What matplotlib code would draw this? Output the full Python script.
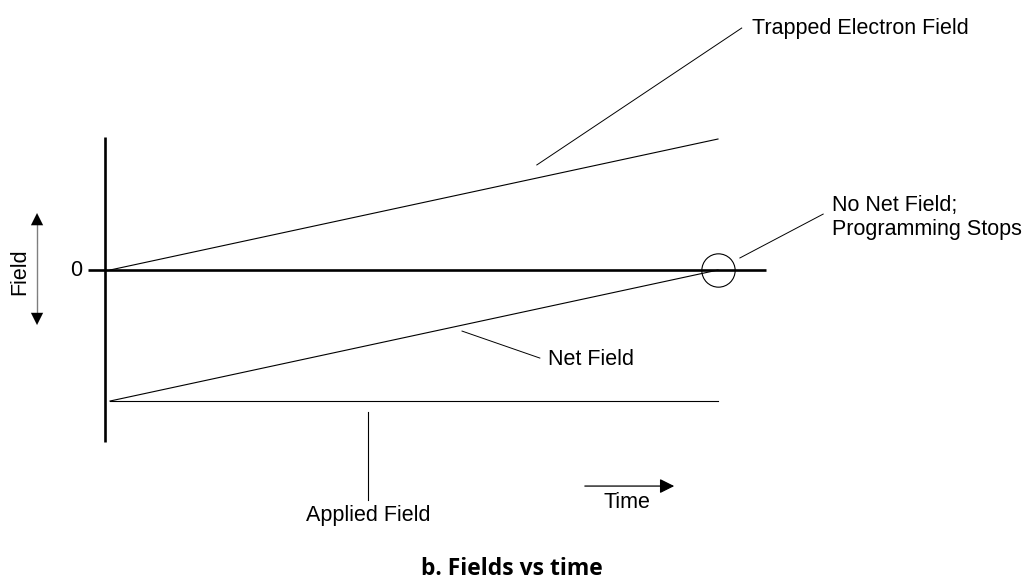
import matplotlib.pyplot as plt

# Dane (czas znormalizowany 0..1, pole znormalizowane)
time = [0.0, 1.0]
trapped_field = [0.0, 1.0]
applied_field = [-1.0, -1.0]
net_field = [-1.0, 0.0]
stop_point = (1.0, 0.0)

labels = {
    'trapped': 'Trapped Electron Field',
    'stop': 'No Net Field;\nProgramming Stops',
    'net': 'Net Field',
    'applied': 'Applied Field',
}
caption = 'b. Fields vs time'

plt.rcParams['font.family'] = ['Liberation Sans', 'DejaVu Sans']
fs = 15.5

fig = plt.figure(figsize=(10.24, 5.8), dpi=100)
ax = fig.add_axes([0, 0, 1, 1])
ax.set_xlim(-0.1809, 1.5033)
ax.set_ylim(-2.366, 2.061)
ax.axis('off')

# Osie
ax.plot([-0.008, -0.008], [1.015, -1.313], color='black', lw=1.9, solid_capstyle='butt')
ax.plot([-0.036, 1.079], [0, 0], color='black', lw=1.9, solid_capstyle='butt')
ax.text(-0.056, 0, '0', fontsize=fs, ha='center', va='center')

# Strzalka "Field"
ax.plot([-0.120, -0.120], [0.35, -0.35], color='gray', lw=1.0)
ax.annotate('', xy=(-0.120, 0.435), xytext=(-0.120, 0.2),
            arrowprops=dict(arrowstyle='-|>', color='black', lw=0.01, mutation_scale=22, shrinkA=0, shrinkB=0))
ax.annotate('', xy=(-0.120, -0.42), xytext=(-0.120, -0.2),
            arrowprops=dict(arrowstyle='-|>', color='black', lw=0.01, mutation_scale=22, shrinkA=0, shrinkB=0))
ax.text(-0.148, -0.015, 'Field', fontsize=fs, rotation=90, ha='center', va='center')

# Linie pol
ax.plot(time, trapped_field, color='black', lw=0.8)
ax.plot(time, net_field, color='black', lw=0.8)
ax.plot(time, applied_field, color='black', lw=0.8)

# Kolko w punkcie zatrzymania
ax.plot(*stop_point, marker='o', markersize=24, markerfacecolor='none',
        markeredgecolor='black', markeredgewidth=0.8)

# Opisy z odnosnikami
ax.plot([0.702, 1.039], [0.802, 1.847], color='black', lw=0.7)
ax.text(1.056, 1.847, labels['trapped'], fontsize=fs, ha='left', va='center')

ax.plot([1.036, 1.173], [0.092, 0.427], color='black', lw=0.7)
ax.text(1.1875, 0.40, labels['stop'], fontsize=fs, ha='left', va='center', linespacing=1.15)

ax.plot([0.579, 0.707], [-0.466, -0.672], color='black', lw=0.7)
ax.text(0.720, -0.685, labels['net'], fontsize=fs, ha='left', va='center')

ax.plot([0.4243, 0.4243], [-1.084, -1.756], color='black', lw=0.8)
ax.text(0.4243, -1.870, labels['applied'], fontsize=fs, ha='center', va='center')

# Strzalka czasu
ax.annotate('', xy=(0.928, -1.649), xytext=(0.781, -1.649),
            arrowprops=dict(arrowstyle='-|>', color='black', lw=0.9, mutation_scale=22, shrinkA=0, shrinkB=0))
ax.text(0.850, -1.771, 'Time', fontsize=fs, ha='center', va='center')

fig.text(0.5, 1 - 569 / 580, caption, fontsize=16.5, fontweight='bold',
         family='Open Sans', ha='center', va='center')

fig.savefig('out.png', dpi=100)
